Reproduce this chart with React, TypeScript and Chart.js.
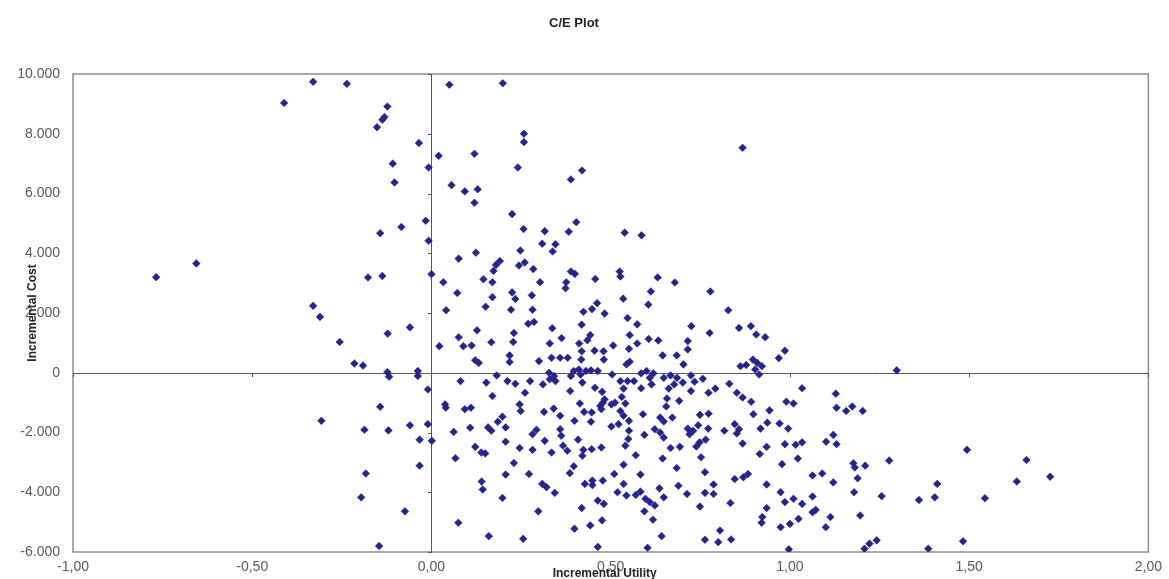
import React, { useEffect, useRef } from "react";
import { Chart, registerables } from "chart.js";

Chart.register(...registerables);

const chartTitle = "C/E Plot";
const xAxisTitle = "Incremental Utility";
const yAxisTitle = "Incremental Cost";

const xMin = -1;
const xMax = 2;
const xStep = 0.5;
const yMin = -6000;
const yMax = 10000;
const yStep = 2000;

// Incremental utility (x) and incremental cost (y), aligned per line
const incrementalUtility = [
  -0.330, -0.236, -0.411, 0.050, 0.199, -0.123, -0.131, -0.137, -0.152, 0.258,
  0.258, -0.035, 0.120, 0.020, -0.108, -0.008, 0.241, 0.420, 0.389, -0.103,
  0.056, 0.093, 0.129, 0.120, 0.225, -0.016, 0.404, -0.084, -0.143, -0.008,
  0.257, 0.316, 0.383, 0.309, 0.346, 0.338, 0.248, 0.124, 0.076, -0.656,
  -0.768, -0.177, -0.137, 0.000, 0.033, 0.191, 0.180, 0.173, 0.244, 0.260,
  0.284, 0.145, 0.170, 0.303, 0.389, 0.400, 0.376, 0.374, 0.457, 0.072,
  0.170, 0.225, 0.234, 0.280, -0.330, -0.311, 0.041, 0.151, 0.222, 0.282,
  0.270, 0.286, 0.424, 0.448, 0.462, 0.483, -0.060, -0.122, -0.256, 0.127,
  0.230, 0.337, 0.419, 0.022, 0.076, 0.089, 0.112, 0.167, 0.228, 0.330,
  0.363, 0.412, 0.443, 0.435, 0.419, 0.455, 0.480, -0.215, -0.191, 0.122,
  0.132, 0.218, 0.218, 0.300, 0.335, 0.359, 0.380, 0.418, 0.481, -0.123,
  -0.118, -0.038, -0.038, 0.328, 0.342, 0.330, 0.346, 0.397, 0.411, 0.431,
  0.445, 0.464, 0.389, 0.416, -0.010, 0.081, 0.153, 0.182, 0.212, 0.234,
  0.275, 0.261, 0.311, 0.387, 0.421, 0.456, 0.476, 0.483, 0.471, 0.478,
  -0.143, 0.038, 0.040, 0.093, 0.110, 0.170, 0.246, 0.249, 0.314, 0.341,
  0.359, 0.414, 0.426, 0.447, 0.474, 0.445, 0.399, -0.307, 0.198, 0.185,
  -0.187, -0.120, -0.060, -0.010, 0.001, -0.033, 0.062, 0.108, 0.158, 0.167,
  0.207, 0.282, 0.293, 0.359, 0.362, 0.409, 0.316, 0.207, 0.246, 0.282,
  0.122, 0.139, 0.150, 0.335, 0.367, 0.379, 0.424, 0.447, 0.474, 0.421,
  0.067, -0.033, 0.230, 0.397, 0.207, 0.272, 0.386, -0.183, 0.140, 0.143,
  0.309, 0.321, 0.344, 0.428, 0.449, 0.449, 0.478, 0.198, -0.196, 0.464,
  0.481, -0.074, 0.298, 0.419, 0.476, 0.075, 0.399, 0.443, 0.160, 0.256,
  -0.146, 0.464,
  0.868, 0.539, 0.586, 0.525, 0.527, 0.631, 0.679, 0.778, 0.612, 0.535,
  0.605, 0.828, 0.547, 0.574, 0.725, 0.776, 0.858, 0.891, 0.906, 0.931,
  0.553, 0.606, 0.633, 0.574, 0.507, 0.715, 0.715, 0.551, 0.645, 0.684,
  0.986, 0.969, 0.553, 0.544, 0.703, 0.862, 0.878, 0.897, 0.909, 0.922,
  0.903, 0.914, 1.298, 0.504, 0.527, 0.547, 0.565, 0.585, 0.600, 0.609,
  0.619, 0.648, 0.667, 0.685, 0.701, 0.724, 0.734, 0.757, 0.677, 0.614,
  0.585, 0.536, 0.662, 0.724, 0.773, 0.792, 0.831, 0.852, 0.868, 0.892,
  1.034, 1.128, 1.130, 0.990, 1.010, 1.157, 1.174, 1.203, 0.502, 0.531,
  0.512, 0.541, 0.657, 0.691, 0.655, 0.590, 0.527, 0.536, 0.551, 0.638,
  0.648, 0.672, 0.749, 0.773, 0.898, 0.943, 0.502, 0.522, 0.551, 0.549,
  0.541, 0.594, 0.623, 0.638, 0.648, 0.715, 0.730, 0.720, 0.744, 0.772,
  0.817, 0.846, 0.858, 0.852, 0.918, 0.937, 0.971, 0.995, 0.748, 0.765,
  0.739, 0.667, 0.693, 0.868, 0.935, 0.986, 1.016, 1.034, 1.101, 1.121,
  1.130, 0.570, 0.645, 0.752, 0.916, 1.022, 0.978, 0.536, 0.684, 1.177,
  1.210, 1.181, 1.277, 1.494, 1.660, 1.726, 1.633, 0.510, 0.583, 0.763,
  0.846, 0.870, 0.883, 1.063, 1.090, 1.189, 1.121, 1.411, 0.536, 0.636,
  0.689, 0.787, 0.935, 0.519, 0.544, 0.583, 0.570, 0.597, 0.609, 0.623,
  0.648, 0.713, 0.763, 0.787, 0.974, 0.986, 1.010, 1.034, 1.063, 1.179,
  1.256, 1.360, 1.404, 1.544, 0.749, 0.834, 0.935, 1.063, 1.072, 0.594,
  0.618, 0.923, 0.921, 0.974, 1.000, 1.024, 1.113, 1.100, 1.196, 0.642,
  0.763, 0.800, 0.805, 0.836, 0.603, 0.997, 1.208, 1.222, 1.242, 1.386,
  1.483,
];

const incrementalCost = [
  9740, 9670, 9030, 9640, 9690, 8910, 8560, 8470, 8220, 8000,
  7720, 7690, 7330, 7260, 7000, 6870, 6870, 6770, 6470, 6370,
  6280, 6070, 6140, 5690, 5310, 5090, 5040, 4880, 4670, 4420,
  4810, 4740, 4720, 4320, 4300, 4060, 4090, 4020, 3820, 3660,
  3200, 3190, 3240, 3300, 3030, 3740, 3610, 3410, 3590, 3690,
  3470, 3130, 3030, 3030, 3390, 3310, 3030, 2830, 3140, 2670,
  2530, 2690, 2470, 2590, 2240, 1870, 2090, 2210, 2110, 2110,
  1640, 1700, 2040, 2130, 2330, 1980, 1520, 1310, 1030, 1420,
  1330, 1490, 1610, 890, 1190, 890, 910, 1020, 1030, 980,
  1160, 980, 1260, 1090, 720, 740, 720, 310, 240, 420,
  330, 580, 360, 390, 500, 500, 500, 440, 440, 20,
  -130, 60, -110, 0, -110, -220, -280, 60, 110, 60,
  80, 60, -110, -60, -560, -280, -330, -90, -280, -370,
  -280, -670, -390, -610, -330, -500, -640, -890, -1110, -1000,
  -1140, -1060, -1170, -1220, -1170, -780, -1060, -1280, -1310, -1200,
  -1440, -1030, -1310, -1330, -1220, -1640, -1610, -1610, -1470, -1640,
  -1910, -1930, -1760, -1720, -2280, -2240, -1980, -1840, -1830, -1940,
  -1830, -2060, -1910, -1890, -2110, -2240, -2280, -2310, -2520, -2580,
  -2480, -2670, -2700, -2670, -2440, -2610, -2580, -2560, -2500, -2780,
  -2860, -3110, -3020, -3130, -3410, -3390, -3360, -3370, -3640, -3910,
  -3720, -3830, -4020, -3720, -3610, -3760, -3610, -4190, -4170, -4280,
  -4390, -4640, -4640, -4530, -4940, -5020, -5220, -5110, -5470, -5560,
  -5800, -5830,
  7530, 4690, 4600, 3390, 3220, 3190, 3020, 2720, 2720, 2480,
  2280, 2090, 1830, 1620, 1560, 1330, 1500, 1560, 1280, 1190,
  1260, 1130, 1080, 980, 910, 1060, 780, 800, 580, 580,
  740, 490, 370, 280, 280, 220, 260, 440, 330, 220,
  110, -60, 80, -60, -280, -280, -280, -20, 60, -170,
  -20, -170, -90, -170, -330, -90, -300, -200, -390, -390,
  -520, -530, -530, -610, -670, -530, -370, -670, -830, -970,
  -520, -700, -1170, -970, -1030, -1280, -1130, -1280, -1060, -810,
  -1000, -1030, -860, -940, -1130, -1390, -1280, -1440, -1610, -1500,
  -1630, -1500, -1410, -1370, -1390, -1260, -1800, -1720, -1940, -2220,
  -2440, -2080, -1890, -2000, -2170, -1870, -1940, -2060, -1760, -1870,
  -1940, -1720, -1890, -2030, -1870, -1670, -1700, -1870, -2330, -2240,
  -2470, -2520, -2480, -2370, -2480, -2390, -2410, -2330, -2310, -2080,
  -2390, -2760, -2870, -2830, -2720, -2870, -3060, -3080, -3190, -3030,
  -3110, -3170, -2940, -2580, -2920, -3480, -3640, -3390, -3410, -3330,
  -3560, -3500, -3390, -3440, -3370, -3530, -3670, -3720, -3720, -3870,
  -3780, -3740, -3740, -4000, -4110, -3980, -4090, -4220, -4330, -4440,
  -4170, -4060, -4020, -4060, -4000, -4330, -4220, -4390, -4140, -4000,
  -4130, -4260, -4170, -4200, -4480, -4360, -4530, -4670, -4590, -4640,
  -4920, -4830, -5020, -5170, -5060, -4890, -4830, -5170, -4780, -5470,
  -5590, -5670, -5280, -5580, -5860, -5910, -5890, -5720, -5610, -5890,
  -5640,
];

const FONT = "Arial, 'Liberation Sans', Helvetica, sans-serif";

function formatUtility(v: number): string {
  return v.toFixed(2).replace(".", ",");
}

function formatCost(v: number): string {
  const neg = v < 0;
  const s = Math.round(Math.abs(v)).toString();
  const grouped = s.replace(/\B(?=(\d{3})+(?!\d))/g, ".");
  return (neg ? "-" : "") + grouped;
}

const decorPlugin = {
  id: "ceDecor",
  beforeDatasetsDraw(chart: any) {
    const { ctx, chartArea: a, scales } = chart;
    const x0 = scales.x.getPixelForValue(0);
    const y0 = scales.y.getPixelForValue(0);
    ctx.save();
    // plot frame
    ctx.strokeStyle = "#8f8f8f";
    ctx.lineWidth = 1.5;
    ctx.strokeRect(a.left, a.top, a.right - a.left, a.bottom - a.top);
    // crosshair axes through the origin
    ctx.strokeStyle = "#555555";
    ctx.lineWidth = 1;
    ctx.beginPath();
    ctx.moveTo(Math.round(x0) + 0.5, a.top);
    ctx.lineTo(Math.round(x0) + 0.5, a.bottom);
    ctx.moveTo(a.left, Math.round(y0) + 0.5);
    ctx.lineTo(a.right, Math.round(y0) + 0.5);
    // small tick marks on crosshair axes
    for (let v = xMin; v <= xMax + 1e-9; v += xStep) {
      const px = Math.round(scales.x.getPixelForValue(v)) + 0.5;
      ctx.moveTo(px, Math.round(y0));
      ctx.lineTo(px, Math.round(y0) + 4);
    }
    for (let v = yMin; v <= yMax; v += yStep) {
      const py = Math.round(scales.y.getPixelForValue(v)) + 0.5;
      ctx.moveTo(Math.round(x0) - 3, py);
      ctx.lineTo(Math.round(x0) + 1, py);
    }
    ctx.stroke();
    ctx.restore();
  },
  afterDraw(chart: any) {
    const { ctx, chartArea: a } = chart;
    ctx.save();
    ctx.fillStyle = "#222222";
    ctx.textAlign = "center";
    ctx.textBaseline = "middle";
    // chart title
    ctx.font = `bold 13px ${FONT}`;
    ctx.fillText(chartTitle, 574, 23);
    // x-axis title (overlapping tick labels, as in the source)
    ctx.font = `bold 12px ${FONT}`;
    ctx.fillText(xAxisTitle, (a.left + a.right) / 2 - 6, 574);
    // y-axis title, rotated
    ctx.translate(33, (a.top + a.bottom) / 2);
    ctx.rotate(-Math.PI / 2);
    ctx.fillText(yAxisTitle, 0, 0);
    ctx.restore();
  },
};

export default function App() {
  const canvasRef = useRef<HTMLCanvasElement | null>(null);

  useEffect(() => {
    const canvas = canvasRef.current;
    if (!canvas) return;
    const points = incrementalUtility.map((x, i) => ({ x, y: incrementalCost[i] }));
    const chart = new Chart(canvas, {
      type: "scatter",
      data: {
        datasets: [
          {
            label: "Simulations",
            data: points,
            pointStyle: "rectRot",
            pointRadius: 3.8,
            pointBorderWidth: 0.6,
            backgroundColor: "#24248a",
            borderColor: "#24248a",
          },
        ],
      },
      options: {
        animation: false,
        responsive: false,
        maintainAspectRatio: false,
        devicePixelRatio: 1,
        layout: { padding: { top: 74, right: 17, left: 0, bottom: 0 } },
        plugins: {
          legend: { display: false },
          tooltip: { enabled: false },
          title: { display: false },
        },
        scales: {
          x: {
            type: "linear",
            min: xMin,
            max: xMax,
            grid: { display: false, drawTicks: false },
            border: { display: false },
            ticks: {
              stepSize: xStep,
              padding: 7,
              maxRotation: 0,
              autoSkip: false,
              color: "#5a5a5a",
              font: { family: FONT, size: 14 },
              callback: (v: any) => formatUtility(Number(v)),
            },
            afterFit: (scale: any) => {
              scale.height = 27;
            },
          },
          y: {
            type: "linear",
            min: yMin,
            max: yMax,
            grid: { display: false, drawTicks: false },
            border: { display: false },
            ticks: {
              stepSize: yStep,
              padding: 13,
              autoSkip: false,
              color: "#5a5a5a",
              font: { family: FONT, size: 14 },
              callback: (v: any) => formatCost(Number(v)),
            },
            afterFit: (scale: any) => {
              scale.width = 73;
            },
          },
        },
      },
      plugins: [decorPlugin],
    });
    return () => {
      chart.destroy();
    };
  }, []);

  return (
    <div
      style={{
        position: "fixed",
        left: 0,
        top: 0,
        width: 1169,
        height: 579,
        background: "#ffffff",
      }}
    >
      <canvas ref={canvasRef} width={1169} height={579} style={{ width: 1169, height: 579, display: "block" }} />
    </div>
  );
}
